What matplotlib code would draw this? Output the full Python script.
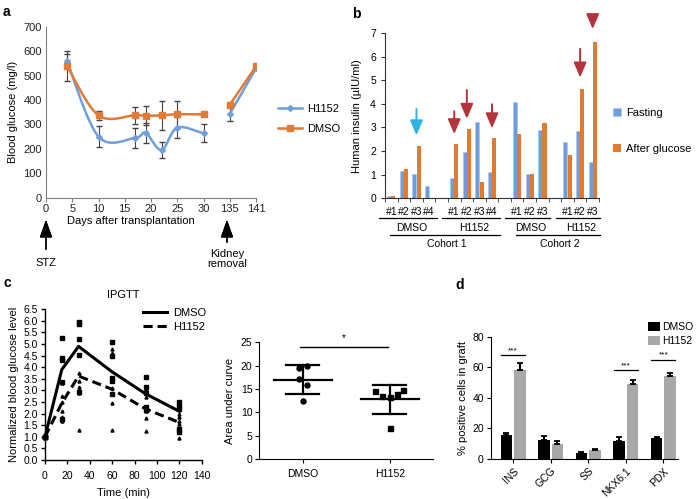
import numpy as np
import matplotlib.pyplot as plt
from matplotlib.path import Path
from matplotlib.patches import PathPatch, Patch
from matplotlib.lines import Line2D

plt.rcParams['font.family'] = ['Liberation Sans', 'DejaVu Sans']
plt.rcParams['font.size'] = 7

W, H = 700, 499

# ---- panel a: blood glucose after transplantation ----
a_tick_days = [0, 5, 10, 15, 20, 25, 30, 135, 141]
a_days_early = [4, 10, 17, 19, 22, 25, 30]
a_days_late = [135, 141]
h1152_early = [560, 250, 245, 265, 195, 287, 263]
h1152_early_err = [30, 42, 41, 40, 33, 43, 37]
dmso_early = [540, 337, 338, 336, 337, 342, 341]
dmso_early_err = [60, 20, 35, 38, 60, 56, 0]
h1152_late = [343, 530]
h1152_late_err = [27, 0]
dmso_late = [381, 538]

# ---- panel b: human insulin per animal ----
b_labels = ['#1', '#2', '#3', '#4', '', '#1', '#2', '#3', '#4', '',
            '#1', '#2', '#3', '', '#1', '#2', '#3']
b_fasting = [0.08, 1.17, 1.05, 0.52, np.nan, 0.85, 1.95, 3.25, 1.13, np.nan,
             4.08, 1.05, 2.90, np.nan, 2.40, 2.86, 1.52]
b_after = [0.08, 1.22, 2.20, 0.0, np.nan, 2.32, 2.93, 0.67, 2.55, np.nan,
           2.72, 1.05, 3.18, np.nan, 1.83, 4.63, 6.60]
b_groups = ['DMSO', 'H1152', 'DMSO', 'H1152']
b_group_slots = [(0, 3), (5, 8), (10, 12), (14, 16)]
b_cohorts = ['Cohort 1', 'Cohort 2']
b_cohort_slots = [(0, 8), (10, 16)]
# arrows: (slot, top, tip, colour)
b_arrows = [(2, 3.9, 2.55, '#2bb3e6'), (5, 3.8, 2.6, '#b3323c'),
            (6, 4.7, 3.25, '#b3323c'), (8, 4.1, 2.85, '#b3323c'),
            (15, 6.45, 5.0, '#b3323c'), (16, 7.6, 7.05, '#b3323c')]

# ---- panel c: IPGTT ----
c_time = [0, 15, 30, 60, 90, 120]
c_dmso_mean = [1.0, 3.9, 4.9, 3.8, 2.85, 2.1]
c_h1152_mean = [1.0, 2.45, 3.62, 3.05, 2.2, 1.62]
c_dmso_pts = [[1.0] * 5,
              [5.25, 4.4, 4.3, 3.35, 1.75],
              [5.95, 5.85, 5.2, 4.55, 2.95],
              [5.1, 4.5, 3.55, 3.4, 2.85],
              [3.6, 3.15, 2.9, 2.3, 2.15],
              [2.5, 2.35, 2.2, 1.35, 1.2]]
c_h1152_pts = [[1.0] * 6,
               [3.3, 2.75, 2.5, 2.1, 1.85, 1.7],
               [3.75, 3.4, 3.15, 3.0, 2.9, 1.3],
               [4.8, 4.6, 3.1, 2.85, 2.45, 1.3],
               [3.05, 2.7, 2.25, 2.1, 1.8, 1.25],
               [2.0, 1.85, 1.7, 1.55, 1.2, 0.95]]
auc_groups = ['DMSO', 'H1152']
auc_dmso = [19.6, 19.9, 17.2, 15.8, 12.4]
auc_h1152 = [14.6, 13.5, 13.3, 14.0, 14.7, 6.6]
auc_dmso_jit = [-0.04, 0.045, -0.04, 0.045, 0.0]
auc_h1152_jit = [-0.17, -0.085, 0.0, 0.08, 0.15, 0.0]

# ---- panel d: % positive cells in graft ----
d_markers = ['INS', 'GCG', 'SS', 'NKX6.1', 'PDX']
d_dmso = [15.8, 12.2, 4.0, 11.8, 14.0]
d_dmso_err = [1.0, 2.8, 0.5, 2.8, 0.3]
d_h1152 = [58.5, 9.5, 6.2, 48.8, 54.3]
d_h1152_err = [4.0, 2.0, 0.6, 2.6, 2.0]
d_sig = [(0, 68), (3, 58), (4, 65)]


def rect(l, t, r, b):
    return [l / W, 1 - b / H, (r - l) / W, (b - t) / H]


def fp(x, y):
    return (x / W, 1 - y / H)


def smooth_path(x, y):
    # Excel-style smoothed line: cubic Bezier through the points
    pts = np.column_stack([x, y]).astype(float)
    n = len(pts)
    verts, codes = [pts[0]], [Path.MOVETO]
    for i in range(n - 1):
        p0, p1 = pts[max(i - 1, 0)], pts[i]
        p2, p3 = pts[i + 1], pts[min(i + 2, n - 1)]
        verts += [p1 + (p2 - p0) / 6, p2 - (p3 - p1) / 6, p2]
        codes += [Path.CURVE4] * 3
    return Path(verts, codes)


fig = plt.figure(figsize=(W / 100, H / 100), dpi=100)

# ================= a =================
grey = '#7f7f7f'
blue_a, orange_a = '#6f9fdc', '#e27a35'
ax = fig.add_axes(rect(46, 27, 256, 197.5))
tick_pos = [5 * i for i in range(len(a_tick_days))]
xe = np.interp(a_days_early, a_tick_days, tick_pos)
xl = np.interp(a_days_late, a_tick_days, tick_pos)
for x, y, e, c, m, ms in [(xe, h1152_early, h1152_early_err, blue_a, 'D', 3),
                          (xe, dmso_early, dmso_early_err, orange_a, 's', 4.5)]:
    ax.add_patch(PathPatch(smooth_path(x, y), fill=False, edgecolor=c, lw=1.8, zorder=2))
    ax.errorbar(x, y, yerr=e, fmt='none', ecolor='#444444', elinewidth=0.8, capsize=2, zorder=3)
    ax.plot(x, y, ls='none', marker=m, ms=ms, color=c, zorder=4)
ax.errorbar(xl, h1152_late, yerr=h1152_late_err, fmt='none', ecolor='#444444',
            elinewidth=0.8, capsize=2, zorder=3)
ax.plot(xl, h1152_late, '-D', color=blue_a, lw=1.8, ms=3, zorder=4)
ax.plot(xl, dmso_late, '-s', color=orange_a, lw=1.8, ms=4.5, zorder=4)
ax.set_xlim(0, 40)
ax.set_ylim(0, 700)
ax.set_xticks(tick_pos)
ax.set_xticklabels([str(d) for d in a_tick_days])
ax.set_yticks(range(0, 701, 100))
for s in ['top', 'right']:
    ax.spines[s].set_visible(False)
for s in ['left', 'bottom']:
    ax.spines[s].set_color(grey)
ax.tick_params(axis='x', length=3, color=grey, labelsize=8, pad=2, labelcolor='#222222')
ax.tick_params(axis='y', length=0, labelsize=8, pad=3, labelcolor='#222222')
ax.set_ylabel('Blood glucose (mg/l)', fontsize=8, labelpad=4)
fig.text(*fp(131, 221), 'Days after transplantation', ha='center', va='center', fontsize=8)
fig.legend(handles=[Line2D([], [], color=blue_a, marker='D', ms=3, lw=1.8),
                    Line2D([], [], color=orange_a, marker='s', ms=4.5, lw=1.8)],
           labels=['H1152', 'DMSO'], loc='center left', bbox_to_anchor=fp(268, 119),
           frameon=False, fontsize=8, handlelength=2.2, labelspacing=0.9, handletextpad=0.4)
for x, y0, y1 in [(46, 252, 217), (227, 245, 217)]:
    fig.add_artist(plt.annotate('', xy=fp(x, y1), xytext=fp(x, y0), xycoords='figure fraction',
                                arrowprops=dict(arrowstyle='-|>,head_length=0.9,head_width=0.32',
                                                color='black', lw=1.0, mutation_scale=12)))
fig.text(*fp(46, 263), 'STZ', ha='center', va='center', fontsize=8)
fig.text(*fp(227, 259), 'Kidney\nremoval', ha='center', va='center', fontsize=8, linespacing=1.1)
fig.text(*fp(3, 12), 'a', fontsize=10, fontweight='bold', va='center')

# ================= b =================
blue_b, orange_b = '#6d9edb', '#e07b2f'
ax = fig.add_axes(rect(385, 33, 599, 198.3))
xb = np.arange(len(b_labels))
ax.bar(xb - 0.17, b_fasting, width=0.32, color=blue_b, edgecolor='#a9c6ec', lw=0.4, label='Fasting')
ax.bar(xb + 0.17, b_after, width=0.32, color=orange_b, label='After glucose')
ax.set_xlim(-0.5, len(b_labels) - 0.5)
ax.set_ylim(0, 7)
ax.set_yticks(range(8))
ax.set_xticks(xb)
ax.set_xticklabels(b_labels)
ax.set_xticks(np.arange(-0.5, len(b_labels)), minor=True)
ax.tick_params(axis='x', which='major', length=0, pad=6, labelsize=7.5)
ax.tick_params(axis='x', which='minor', length=3, color='#333333')
ax.tick_params(axis='y', length=3, color='#333333', labelsize=7.5)
for s in ['top', 'right']:
    ax.spines[s].set_visible(False)
for s in ['left', 'bottom']:
    ax.spines[s].set_color('#333333')
ax.set_ylabel('Human insulin (\u00b5IU/ml)', fontsize=8, labelpad=6)
tr = ax.get_xaxis_transform()
for name, (s0, s1) in zip(b_groups, b_group_slots):
    ax.plot([s0 - 0.5 - 0.45, s1 + 0.5 + 0.1], [-0.121, -0.121], color='black', lw=0.9,
            transform=tr, clip_on=False)
    ax.text((s0 + s1) / 2 + 0.1, -0.182, name, transform=tr, ha='center', va='center', fontsize=7.5)
for name, (s0, s1) in zip(b_cohorts, b_cohort_slots):
    ax.plot([s0 - 0.1, s1 + 0.6], [-0.222, -0.222], color='black', lw=0.9,
            transform=tr, clip_on=False)
    ax.text((s0 + s1) / 2 + 0.4, -0.278, name, transform=tr, ha='center', va='center', fontsize=7.5)
for s, top, tip, c in b_arrows:
    ax.annotate('', xy=(s, tip), xytext=(s, top), annotation_clip=False,
                arrowprops=dict(arrowstyle='-|>,head_length=0.75,head_width=0.32',
                                color=c, lw=1.4, mutation_scale=12))
ax.legend(loc='center left', bbox_to_anchor=fp(603, 131), bbox_transform=fig.transFigure,
          frameon=False, fontsize=8, handlelength=0.7, handleheight=0.7,
          labelspacing=2.3, handletextpad=0.5)
fig.text(*fp(352, 14), 'b', fontsize=10, fontweight='bold', va='center')

# ================= c (IPGTT) =================
ax = fig.add_axes(rect(45, 309.3, 201.7, 460))
for t, pts in zip(c_time, c_dmso_pts):
    ax.plot([t] * len(pts), pts, ls='none', marker='s', ms=2.6, color='black', clip_on=False)
for t, pts in zip(c_time, c_h1152_pts):
    ax.plot([t] * len(pts), pts, ls='none', marker='^', ms=2.2, color='black', clip_on=False)
ax.plot(c_time, c_dmso_mean, color='black', lw=2.2, label='DMSO', clip_on=False)
ax.plot(c_time, c_h1152_mean, color='black', lw=2.2, ls=(0, (3, 1.6)), label='H1152', clip_on=False)
ax.set_xlim(0, 140)
ax.set_ylim(0, 6.5)
ax.set_xticks(range(0, 141, 20))
ax.set_yticks(np.arange(0, 6.51, 0.5))
ax.yaxis.set_major_formatter(plt.FormatStrFormatter('%.1f'))
for s in ['top', 'right']:
    ax.spines[s].set_visible(False)
for s in ['left', 'bottom']:
    ax.spines[s].set_linewidth(1.0)
ax.tick_params(length=3, width=1.0, labelsize=7.5, pad=2)
ax.tick_params(axis='x', pad=5)
ax.set_xlabel('Time (min)', fontsize=8, labelpad=5)
ax.set_ylabel('Normalized blood glucose level', fontsize=8, labelpad=3)
ax.set_title('IPGTT', fontsize=8, pad=8)
ax.legend(loc='center left', bbox_to_anchor=fp(133, 320), bbox_transform=fig.transFigure,
          frameon=False, fontsize=8, handlelength=2.2, labelspacing=0.3, handletextpad=0.5)
fig.text(*fp(4, 283), 'c', fontsize=10, fontweight='bold', va='center')

# ================= c (AUC) =================
ax = fig.add_axes(rect(259.3, 342.3, 433.3, 459))
for i, (vals, jit, m) in enumerate([(auc_dmso, auc_dmso_jit, 'o'),
                                    (auc_h1152, auc_h1152_jit, 's')]):
    ax.plot(np.array(jit) + i, vals, ls='none', marker=m, ms=3.6, color='black', zorder=3)
    mu, sd = np.mean(vals), np.std(vals, ddof=1)
    ax.plot([i - 0.33, i + 0.33], [mu, mu], color='black', lw=1.6)
    ax.plot([i, i], [mu - sd, mu + sd], color='black', lw=1.6)
    ax.plot([i - 0.19, i + 0.19], [mu - sd, mu - sd], color='black', lw=1.6)
    ax.plot([i - 0.19, i + 0.19], [mu + sd, mu + sd], color='black', lw=1.6)
ax.plot([-0.03, 0.98], [24, 24], color='black', lw=1.0, clip_on=False)
ax.text(0.47, 26.0, '*', ha='center', va='center', fontsize=7)
ax.set_xlim(-0.5, 1.5)
ax.set_ylim(0, 25)
ax.set_xticks([0, 1])
ax.set_xticklabels(auc_groups)
ax.set_yticks(range(0, 26, 5))
for s in ['top', 'right']:
    ax.spines[s].set_visible(False)
ax.tick_params(length=3, labelsize=7.5, pad=2)
ax.tick_params(axis='x', pad=4)
ax.set_ylabel('Area under curve', fontsize=8, labelpad=4)

# ================= d =================
ax = fig.add_axes(rect(490.7, 336.7, 678.3, 459))
xd = np.arange(len(d_markers))
ax.bar(xd - 0.18, d_dmso, width=0.31, color='black', label='DMSO',
       yerr=[np.zeros(len(xd)), d_dmso_err], error_kw=dict(ecolor='black', elinewidth=1.5, capsize=2.5, capthick=1.3))
ax.bar(xd + 0.18, d_h1152, width=0.31, color='#a8a8a8', label='H1152',
       yerr=[np.zeros(len(xd)), d_h1152_err], error_kw=dict(ecolor='black', elinewidth=1.5, capsize=2.5, capthick=1.3))
for i, y in d_sig:
    ax.plot([i - 0.32, i + 0.32], [y, y], color='black', lw=0.9)
    ax.text(i, y + 0.5, '***', ha='center', va='bottom', fontsize=6)
ax.set_xlim(-0.6, 4.4)
ax.set_ylim(0, 80)
ax.set_yticks(range(0, 81, 20))
ax.set_xticks(xd)
ax.set_xticklabels(d_markers, rotation=45, ha='right', rotation_mode='anchor')
for s in ['top', 'right']:
    ax.spines[s].set_visible(False)
ax.tick_params(length=3, labelsize=7.5, pad=2)
ax.set_ylabel('% positive cells in graft', fontsize=8, labelpad=3)
ax.legend(loc='center left', bbox_to_anchor=fp(641, 334), bbox_transform=fig.transFigure,
          frameon=False, fontsize=7.5, handlelength=1.1, handleheight=0.9,
          labelspacing=0.35, handletextpad=0.25, borderpad=0.2)
fig.text(*fp(455, 285), 'd', fontsize=10, fontweight='bold', va='center')

fig.savefig('out.png', dpi=100)
